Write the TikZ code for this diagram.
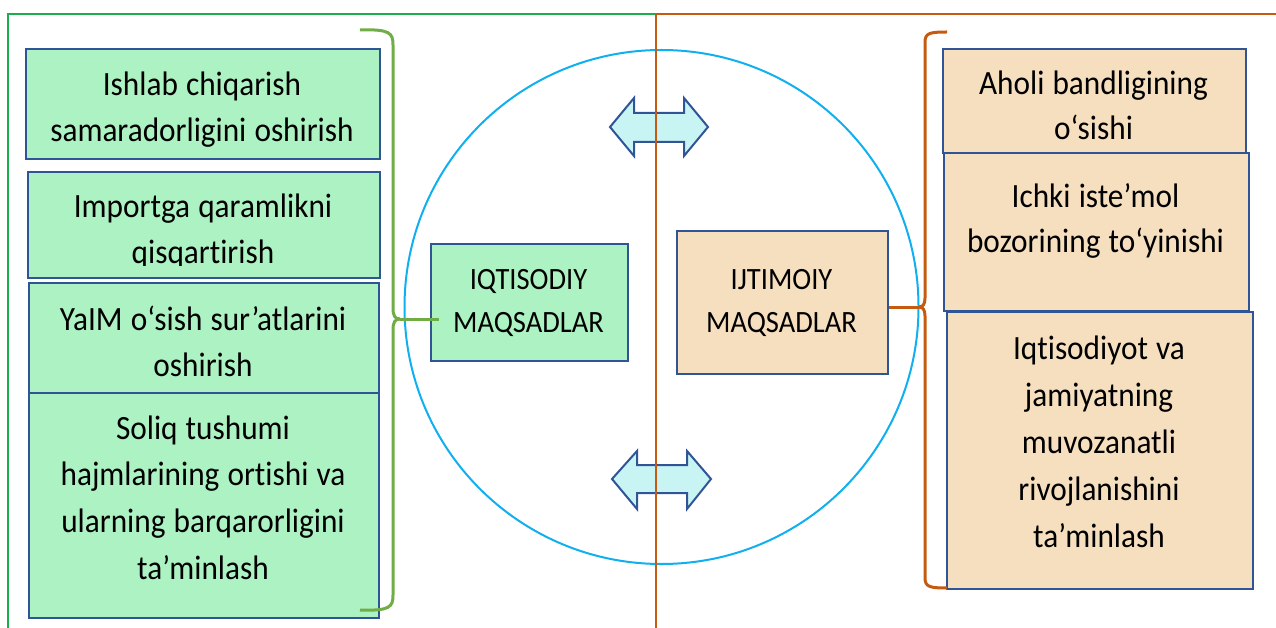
\documentclass[tikz,border=0pt]{standalone}
\usepackage{fontspec}
\setmainfont{Carlito}[FakeStretch=0.92, Ligatures=NoCommon]
\definecolor{gfill}{HTML}{ADF2C2}
\definecolor{tfill}{HTML}{F5DFBE}
\definecolor{bord}{HTML}{2F5597}
\definecolor{gframe}{HTML}{1AAF4B}
\definecolor{gbrace}{HTML}{70AD47}
\definecolor{orng}{HTML}{C55A11}
\definecolor{circ}{HTML}{10B0F0}
\definecolor{arrfill}{HTML}{C9F4F4}
\begin{document}
\begin{tikzpicture}[x=1pt,y=-1pt,
  gbox/.style={draw=bord, fill=gfill, line width=2.2pt, inner sep=0pt, anchor=north west},
  tbox/.style={draw=bord, fill=tfill, line width=2.2pt, inner sep=0pt, anchor=north west},
  txt/.style={anchor=base, align=flush center, inner sep=0pt, font=\fontsize{34}{46}\selectfont,
    execute at begin node={\spaceskip=0.24em\relax}},
  mtxt/.style={anchor=base, align=flush center, inner sep=0pt, font=\fontsize{31}{43}\selectfont},
  gbr/.style={draw=gbrace, line width=3pt},
  obr/.style={draw=orng, line width=3pt},
  dbl/.style={draw=bord, fill=arrfill, line width=2pt, line join=miter}
]
\useasboundingbox (0,0) rectangle (1276,628);

% circle
\node[circle, draw=circ, line width=2pt, minimum size=514pt, inner sep=0pt] (c) at (661.5,307) {};

% double arrows
\draw[dbl] (610,127) -- (634,98) -- (634,113) -- (684,113) -- (684,98) -- (708,127) -- (684,156) -- (684,142) -- (634,142) -- (634,156) -- cycle;
\draw[dbl] (612,479) -- (637,451) -- (637,465) -- (687,465) -- (687,451) -- (711,479) -- (687,509) -- (687,493) -- (637,493) -- (637,509) -- cycle;

% frame lines
\draw[gframe, line width=2pt] (8,628) -- (8,14) -- (656,14);
\draw[orng, line width=2pt] (656,14) -- (1276,14);
\draw[orng, line width=2pt] (656,14) -- (656,628);

% left boxes
\node[gbox, minimum width=354pt, minimum height=110pt] (g1) at (25,48) {};
\node[txt, text width=340pt] (g1t) at (202,96) {Ishlab chiqarish\\samaradorligini oshirish};
\node[gbox, minimum width=352pt, minimum height=106pt] (g2) at (27,171) {};
\begin{scope}
\clip (27,171) rectangle (379,265);
\node[txt, text width=340pt] (g2t) at (203,218) {Importga qaramlikni\\qisqartirish};
\end{scope}
\node[gbox, minimum width=350pt, minimum height=110pt] (g3) at (28,282) {};
\node[txt, text width=340pt] (g3t) at (203,330) {YaIM o‘sish sur’atlarini\\oshirish};
\node[gbox, minimum width=350pt, minimum height=225pt] (g4) at (28,392) {};
\node[txt, text width=340pt, font=\fontsize{34}{46.7}\selectfont] (g4t) at (203,439) {Soliq tushumi\\hajmlarining ortishi va\\ularning barqarorligini\\ta’minlash};

% right boxes
\node[tbox, minimum width=303pt, minimum height=104pt] (t1) at (942,48) {};
\begin{scope}
\clip (942,48) rectangle (1245,141);
\node[txt, text width=290pt, font=\fontsize{34}{45}\selectfont] (t1t) at (1093.5,95) {Aholi bandligining\\o‘sishi};
\end{scope}
\node[tbox, minimum width=305pt, minimum height=158pt] (t2) at (943,152) {};
\node[txt, text width=290pt, font=\fontsize{34}{44}\selectfont] (t2t) at (1095.5,208) {Ichki iste’mol\\bozorining to‘yinishi};
\node[tbox, minimum width=306pt, minimum height=277pt] (t3) at (946,311) {};
\node[txt, text width=290pt, font=\fontsize{34}{47}\selectfont] (t3t) at (1099,359) {Iqtisodiyot va\\jamiyatning\\muvozanatli\\rivojlanishini\\ta’minlash};

% middle boxes
\node[gbox, minimum width=197pt, minimum height=117pt] (iq) at (430,243) {};
\node[mtxt, text width=190pt] (iqt) at (528.5,289) {IQTISODIY\\MAQSADLAR};
\node[tbox, minimum width=211pt, minimum height=143pt] (ij) at (676,230) {};
\node[mtxt, text width=200pt] (ijt) at (781.5,289) {IJTIMOIY\\MAQSADLAR};

% green brace
\coordinate (gtip) at (400,319);
\draw[gbr] (360,30) .. controls (390,29) and (393,33) .. (393,45) -- (393,308) .. controls (393,316) and (395,319) .. (gtip);
\draw[gbr] (360,610) .. controls (390,611) and (393,607) .. (393,595) -- (393,330) .. controls (393,322) and (395,319) .. (gtip);
\draw[gbr] (gtip) -- ([xshift=9pt]gtip -| iq.west);

% orange brace
\coordinate (otip) at (919,307);
\draw[obr] (947,32) .. controls (930,32) and (925,33) .. (925,42) -- (925,298) .. controls (925,304) and (923,307) .. (otip);
\draw[obr] (947,588) .. controls (930,588) and (925,587) .. (925,578) -- (925,316) .. controls (925,310) and (923,307) .. (otip);
\draw[obr] (otip) -- (otip -| ij.east);
\end{tikzpicture}
\end{document}
